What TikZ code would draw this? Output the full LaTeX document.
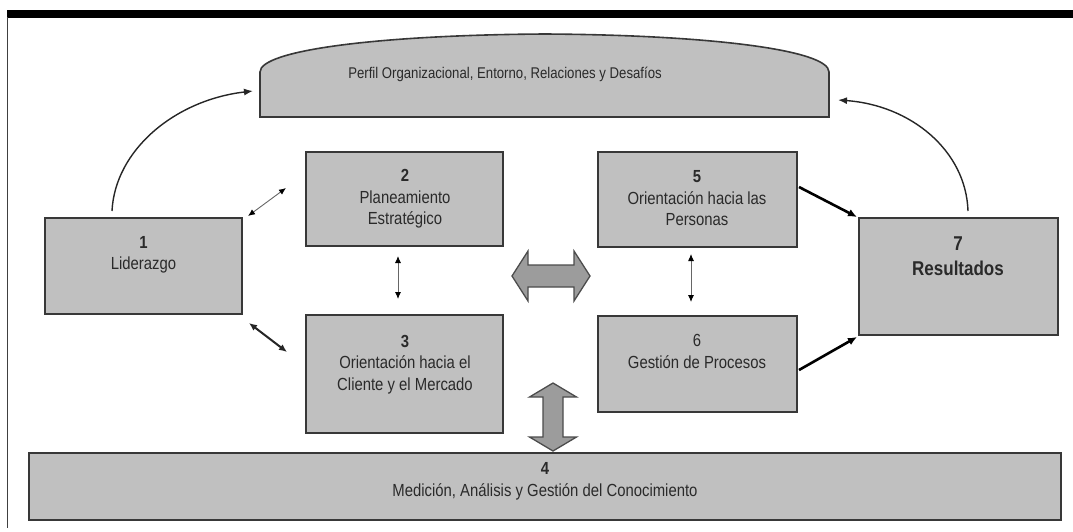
\documentclass[tikz,border=0pt]{standalone}
\usepackage{fontspec}
\setmainfont{Liberation Sans}[FakeStretch=0.85]
\usetikzlibrary{arrows.meta,calc}
\definecolor{boxfill}{HTML}{C0C0C0}
\definecolor{boxline}{HTML}{383838}
\definecolor{fatfill}{HTML}{9C9C9C}
\definecolor{txt}{HTML}{2A2A2A}
\begin{document}
\begin{tikzpicture}[x=1pt,y=-1pt,
  box/.style={draw=boxline,line width=2pt,fill=boxfill,minimum width=#1,inner sep=0pt},
  lbl/.style={text=txt,align=center,inner sep=0pt,font=\fontsize{17.5}{21.5}\selectfont},
  thinarr/.style={draw=gray!80!black,line width=0.9pt,{Latex[length=7pt,width=6pt,black]}-{Latex[length=7pt,width=6pt,black]}},
  darkarr/.style={draw=black!85,line width=2pt,{Latex[length=8pt,width=7pt]}-{Latex[length=8pt,width=7pt]}},
  thickarr/.style={draw=black,line width=2.6pt,-{Latex[length=9pt,width=8pt]}},
  curvearr/.style={draw=black!85,line width=1.4pt,-{Latex[length=9pt,width=7pt]}},
  fatarr/.style={draw=black!70,line width=1.3pt,fill=fatfill,line join=miter}
]
\useasboundingbox (0,0) rectangle (1073,531);
% frame
\fill[black] (7,10) rectangle (1073,17.5);
\draw[black!75,line width=1.5pt] (7.5,17) -- (7.5,528);
% top shape
\draw[draw=boxline,line width=1.6pt,fill=boxfill]
  (260,117) -- (260,72) .. controls (260,50) and (380,35) .. (545,34)
  .. controls (710,35) and (829,50) .. (829,72) -- (829,117) -- cycle;
\coordinate (perfL) at (253,91);
\coordinate (perfR) at (838,100);
\node[lbl,font=\fontsize{15.5}{19}\selectfont] (tperf) at (505,74) {Perfil Organizacional, Entorno, Relaciones y Desaf\'ios};
% boxes
\node[box=197pt,minimum height=96pt] (b1) at (143.5,266) {};
\node[box=197pt,minimum height=94pt] (b2) at (404.5,199) {};
\node[box=197pt,minimum height=118pt] (b3) at (404.5,374) {};
\node[box=199pt,minimum height=95pt] (b5) at (697.5,199.5) {};
\node[box=199pt,minimum height=96pt] (b6) at (697.5,364) {};
\node[box=199pt,minimum height=117pt] (b7) at (958.5,276.5) {};
\node[box=1032pt,minimum height=67pt] (b4) at (545,486.5) {};
% texts
\node[lbl] (t1) at (143.5,255) {\textbf{1}\\Liderazgo};
\node[lbl] (t2) at (405,199) {\textbf{2}\\Planeamiento\\Estrat\'egico};
\node[lbl] (t3) at (405,364.5) {\textbf{3}\\Orientaci\'on hacia el\\Cliente y el Mercado};
\node[lbl] (t5) at (697,198.5) {\textbf{5}\\Orientaci\'on hacia las\\Personas};
\node[lbl] (t6) at (697,351.5) {6\\Gesti\'on de Procesos};
\node[lbl,font=\fontsize{20}{25}\selectfont\bfseries] (t7) at (958,256) {7\\Resultados};
\node[lbl] (t4) at (545,481.5) {\textbf{4}\\Medici\'on, An\'alisis y Gesti\'on del Conocimiento};
% connectors
\draw[thinarr] ($(b1.north east)+(5,-1)$) -- ($(b2.west)+(-19,-11)$);
\draw[darkarr] ($(b1.south east)+(6,8)$) -- ($(b3.west)+(-18,-22)$);
\draw[thinarr] ($(b2.south)+(-6.5,9)$) -- ($(b3.north)+(-6.5,-15)$);
\draw[thinarr] ($(b5.south)+(-6.5,6)$) -- ($(b6.north)+(-6.5,-13)$);
\draw[thickarr] ($(b5.east)+(1,-12.5)$) -- ($(b7.north west)+(-1,0)$);
\draw[thickarr] ($(b6.east)+(1,6)$) -- ($(b7.south west)+(-1,1)$);
\draw[curvearr] ($(b1.north)+(-31.5,-6)$) .. controls (115,150) and (175,100) .. (perfL);
\draw[curvearr] ($(b7.north)+(9.5,-6)$) .. controls (966,150) and (910,105) .. (perfR);
% fat double arrows
\draw[fatarr] (512,276) -- (528,251) -- (528,265) -- (574,265) -- (574,251) -- (590,276)
  -- (574,301) -- (574,287) -- (528,287) -- (528,301) -- cycle;
\draw[fatarr] (553,383) -- (576.5,397) -- (563,397) -- (563,437) -- (576.5,437) -- (553,451)
  -- (529.5,437) -- (543,437) -- (543,397) -- (529.5,397) -- cycle;
\end{tikzpicture}
\end{document}
